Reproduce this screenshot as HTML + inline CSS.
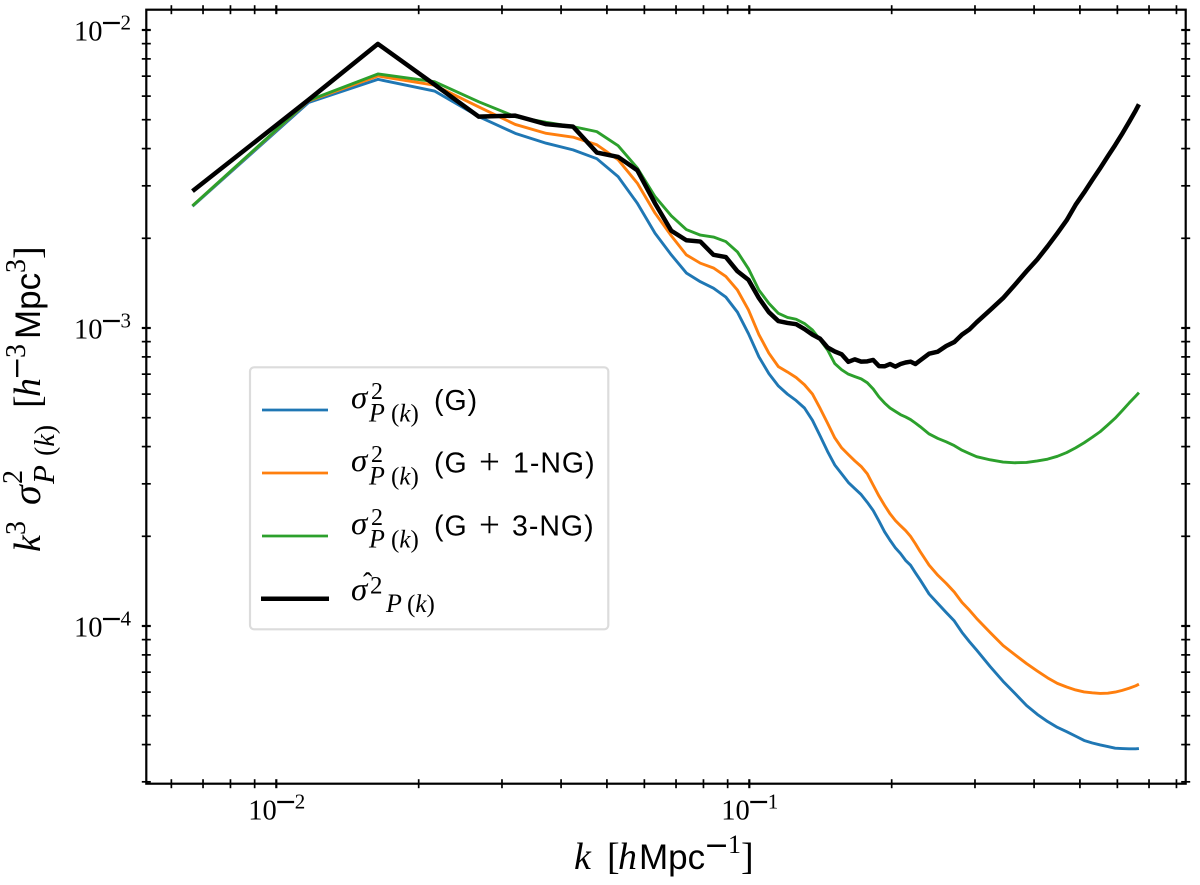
<!DOCTYPE html>
<html lang="en">
<head>
<meta charset="utf-8">
<title>Power spectrum variance chart</title>
<style>
html,body{margin:0;padding:0;background:#fff;}
svg{display:block;}
text{fill:#000;font-family:"Liberation Serif",serif;}
.sans{font-family:"Liberation Sans",sans-serif;}
.serif{font-family:"Liberation Serif",serif;}
.it{font-style:italic;}
.dj{font-family:"DejaVu Sans",sans-serif;}
</style>
</head>
<body>
<svg id="chart" xmlns="http://www.w3.org/2000/svg" width="1200" height="885" viewBox="0 0 1200 885">
  <rect x="0" y="0" width="1200" height="885" fill="#fff"/>
  <g id="series-layer"></g>
  <g id="tick-layer"></g>
  <rect x="146.3" y="9.7" width="1039.4" height="774" fill="none" stroke="#000" stroke-width="2.2"/>

  <g>
    <rect x="250" y="367.3" width="358.3" height="262" rx="4" ry="4" fill="#fff" stroke="#dcdcdc" stroke-width="2.2"/>

    <g>
      <line x1="262" y1="410" x2="328" y2="410" stroke="#1f77b4" stroke-width="2.8"/>
      <text><tspan class="it" x="351" y="408" font-size="33">σ</tspan><tspan x="371" y="399" font-size="24">2</tspan><tspan class="it" x="369" y="421.7" font-size="26">P</tspan><tspan x="391" y="421.7" font-size="25">(</tspan><tspan class="it" font-size="25">k</tspan><tspan font-size="25">)</tspan></text>
      <text class="sans" x="434" y="410" font-size="28.5" letter-spacing="1">(G)</text>
    </g>

    <g>
      <line x1="262" y1="473" x2="328" y2="473" stroke="#ff7f0e" stroke-width="2.8"/>
      <text><tspan class="it" x="351" y="471" font-size="33">σ</tspan><tspan x="371" y="462" font-size="24">2</tspan><tspan class="it" x="369" y="484.7" font-size="26">P</tspan><tspan x="391" y="484.7" font-size="25">(</tspan><tspan class="it" font-size="25">k</tspan><tspan font-size="25">)</tspan></text>
      <text class="sans" font-size="28.5" letter-spacing="1"><tspan x="434" y="472.5">(G</tspan><tspan class="serif" x="479" y="474" font-size="37" letter-spacing="0">+</tspan><tspan x="513" y="472.5">1-NG)</tspan></text>
    </g>

    <g>
      <line x1="262" y1="536" x2="328" y2="536" stroke="#2ca02c" stroke-width="2.8"/>
      <text><tspan class="it" x="351" y="534" font-size="33">σ</tspan><tspan x="371" y="525" font-size="24">2</tspan><tspan class="it" x="369" y="547.7" font-size="26">P</tspan><tspan x="391" y="547.7" font-size="25">(</tspan><tspan class="it" font-size="25">k</tspan><tspan font-size="25">)</tspan></text>
      <text class="sans" font-size="28.5" letter-spacing="1"><tspan x="434" y="535.5">(G</tspan><tspan class="serif" x="479" y="537" font-size="37" letter-spacing="0">+</tspan><tspan x="512" y="535.5">3-NG)</tspan></text>
    </g>

    <g>
      <line x1="261" y1="598.7" x2="329" y2="598.7" stroke="#000" stroke-width="4.5"/>
      <text><tspan class="it" x="351" y="600" font-size="33">σ</tspan><tspan x="370" y="593.5" font-size="25">2</tspan><tspan x="363" y="592" font-size="28">ˆ</tspan><tspan class="it" x="386" y="612" font-size="26">P</tspan><tspan x="407" y="612" font-size="25">(</tspan><tspan class="it" font-size="25">k</tspan><tspan font-size="25">)</tspan></text>
    </g>
  </g>

  <text><tspan class="it" x="574" y="869" font-size="38">k</tspan><tspan x="607" y="869" font-size="38">[</tspan><tspan class="it" x="618" y="869" font-size="38">h</tspan><tspan class="sans" x="639" y="869" font-size="35">Mpc</tspan><tspan class="dj" x="704" y="855" font-size="30">−</tspan><tspan x="728" y="853" font-size="26">1</tspan><tspan x="741" y="869" font-size="38">]</tspan></text>

  <g transform="translate(40,552) rotate(-90)">
    <text><tspan class="it" x="0" y="0" font-size="38">k</tspan><tspan x="17" y="-15" font-size="28">3</tspan><tspan class="it" x="47" y="0" font-size="40">σ</tspan><tspan x="68" y="-18" font-size="28">2</tspan><tspan class="it" x="68" y="14" font-size="31">P</tspan><tspan x="96" y="14" font-size="28">(</tspan><tspan class="it" font-size="28">k</tspan><tspan font-size="28">)</tspan><tspan x="144" y="0" font-size="38">[</tspan><tspan class="it" x="155" y="0" font-size="38">h</tspan><tspan class="dj" x="172" y="-14" font-size="28">−</tspan><tspan x="194" y="-15" font-size="28">3</tspan><tspan class="sans" x="213" y="0" font-size="35">Mpc</tspan><tspan x="279" y="-15" font-size="28">3</tspan><tspan x="293" y="0" font-size="38">]</tspan></text>
  </g>
</svg>

<script>
// Wavenumbers k [h/Mpc]
const kValues = [
  0.00665,0.0117,0.0164,0.0216,0.0268,0.032,0.0372,0.0424,0.0476,0.0528,
  0.058,0.0632,0.0684,0.0736,0.0788,0.084,0.0892,0.0944,0.0996,0.1048,
  0.11,0.1152,0.1204,0.1256,0.1308,0.136,0.1412,0.1464,0.1516,0.1568,
  0.162,0.1672,0.1724,0.1776,0.1828,0.188,0.1932,0.1984,0.2036,0.2088,
  0.214,0.2192,0.2244,0.2296,0.24,0.2504,0.2608,0.2712,0.2816,0.292,
  0.3024,0.3232,0.344,0.3648,0.3856,0.4064,0.4272,0.448,0.4688,0.4896,
  0.5104,0.5312,0.552,0.5728,0.5936,0.6144,0.6352,0.656,0.6664
];
// Series values in units of 1e-3 [h^-3 Mpc^3]
const valueUnit = 1e-3;
const sigmaG = [
  2.56,5.71,6.83,6.24,5.12,4.5,4.17,3.96,3.7,3.22,
  2.62,2.08,1.76,1.53,1.43,1.36,1.27,1.13,0.957,0.80,
  0.703,0.639,0.60,0.571,0.539,0.49,0.434,0.385,0.347,0.324,
  0.303,0.289,0.276,0.26,0.244,0.225,0.207,0.194,0.183,0.175,
  0.166,0.16,0.151,0.143,0.128,0.119,0.111,0.104,0.0952,0.0886,
  0.083,0.073,0.0652,0.0593,0.0541,0.0505,0.0478,0.0457,0.0442,0.0427,
  0.0413,0.0405,0.0399,0.0394,0.0389,0.0388,0.0387,0.0387,0.0388
];
const sigmaG1NG = [
  2.57,5.78,7.01,6.53,5.52,4.82,4.5,4.37,4.12,3.67,
  3.06,2.43,2.04,1.76,1.65,1.59,1.49,1.34,1.15,0.95,
  0.823,0.742,0.712,0.682,0.645,0.60,0.537,0.479,0.428,0.396,
  0.376,0.358,0.343,0.324,0.297,0.273,0.254,0.238,0.226,0.217,
  0.209,0.20,0.189,0.178,0.16,0.148,0.139,0.13,0.12,0.113,
  0.106,0.095,0.086,0.080,0.0748,0.0706,0.067,0.0642,0.0624,0.061,
  0.0601,0.0597,0.0594,0.0595,0.06,0.0608,0.0618,0.063,0.0638
];
const sigmaG3NG = [
  2.57,5.8,7.12,6.71,5.74,5.12,4.9,4.74,4.56,4.09,
  3.44,2.76,2.38,2.14,2.05,2.02,1.95,1.80,1.58,1.34,
  1.21,1.12,1.085,1.07,1.035,0.985,0.912,0.844,0.76,0.724,
  0.70,0.687,0.675,0.655,0.624,0.587,0.56,0.539,0.525,0.512,
  0.503,0.493,0.48,0.467,0.441,0.426,0.415,0.403,0.389,0.379,
  0.37,0.361,0.355,0.353,0.354,0.358,0.363,0.371,0.382,0.396,
  0.412,0.43,0.449,0.473,0.498,0.528,0.56,0.591,0.607
];
const sigmaHat = [
  2.88,5.83,8.98,6.56,5.12,5.16,4.83,4.74,3.88,3.75,
  3.38,2.62,2.12,1.97,1.95,1.76,1.73,1.55,1.45,1.26,
  1.13,1.055,1.04,1.03,0.992,0.95,0.92,0.86,0.834,0.816,
  0.77,0.785,0.771,0.773,0.781,0.745,0.744,0.757,0.742,0.757,
  0.766,0.771,0.757,0.778,0.82,0.833,0.87,0.897,0.95,0.989,
  1.045,1.15,1.26,1.40,1.55,1.70,1.88,2.08,2.30,2.59,
  2.85,3.14,3.44,3.77,4.11,4.49,4.91,5.37,5.63
];
// Axis ticks
const xMajorTicks = [0.01,0.1];
const xTickExponents = ["2","1"];
const xMinorTicks = [0.006,0.007,0.008,0.009,0.02,0.03,0.04,0.05,0.06,0.07,0.08,0.09,0.2,0.3,0.4,0.5,0.6,0.7,0.8];
const yMajorTicks = [1e-2,1e-3,1e-4];
const yTickExponents = ["2","3","4"];
const yMinorTicks = [9e-3,8e-3,7e-3,6e-3,5e-3,4e-3,3e-3,2e-3,9e-4,8e-4,7e-4,6e-4,5e-4,4e-4,3e-4,2e-4,9e-5,8e-5,7e-5,6e-5,5e-5,4e-5,3e-5];

const SVGNS = 'http://www.w3.org/2000/svg';
const seriesLayer = document.getElementById('series-layer');
const tickLayer = document.getElementById('tick-layer');

function xScale(k){ return 749.3 + 473 * (Math.log10(k) + 1); }
function yScale(v){ return 328 - 298 * (Math.log10(v) + 3); }

function drawSeries(values, color, width, name){
  const pts = kValues.map(function(k,i){
    return xScale(k).toFixed(2) + ',' + yScale(values[i] * valueUnit).toFixed(2);
  }).join(' ');
  const el = document.createElementNS(SVGNS,'polyline');
  el.setAttribute('points', pts);
  el.setAttribute('fill','none');
  el.setAttribute('stroke',color);
  el.setAttribute('stroke-width',width);
  el.setAttribute('stroke-linejoin','round');
  el.setAttribute('stroke-linecap','butt');
  
  
  seriesLayer.appendChild(el);
}
drawSeries(sigmaG,'#1f77b4',2.9,'series-g');
drawSeries(sigmaG1NG,'#ff7f0e',2.9,'series-g-1ng');
drawSeries(sigmaG3NG,'#2ca02c',2.9,'series-g-3ng');
drawSeries(sigmaHat,'#000000',4.5,'series-estimate');

function tickLine(x1,y1,x2,y2,w){
  const el = document.createElementNS(SVGNS,'line');
  el.setAttribute('x1',x1);
  el.setAttribute('y1',y1);
  el.setAttribute('x2',x2);
  el.setAttribute('y2',y2);
  el.setAttribute('stroke','#000');
  el.setAttribute('stroke-width',w);
  
  
  tickLayer.appendChild(el);
}
function xTick(k,w){
  const x = xScale(k);
  tickLine(x,779.2,x,788.2,w);
  tickLine(x,5.2,x,14.2,w);
}
function yTick(v,w){
  const y = yScale(v);
  tickLine(141.8,y,150.8,y,w);
  tickLine(1181.2,y,1190.2,y,w);
}
xMajorTicks.forEach(function(k){ xTick(k,2.2); });
xMinorTicks.forEach(function(k){ xTick(k,1.7); });
yMajorTicks.forEach(function(v){ yTick(v,2.2); });
yMinorTicks.forEach(function(v){ yTick(v,1.7); });

function powerLabel(x, base, exp, name){
  const t = document.createElementNS(SVGNS,'text');
  const a = document.createElementNS(SVGNS,'tspan');
  a.setAttribute('x',x);
  a.setAttribute('y',base);
  a.setAttribute('font-size','28.5');
  a.textContent = '10';
  const b = document.createElementNS(SVGNS,'tspan');
  b.setAttribute('x',x+26);
  b.setAttribute('y',base-9);
  b.setAttribute('font-size','27');
  b.setAttribute('class','dj');
  b.textContent = '\u2212';
  const c = document.createElementNS(SVGNS,'tspan');
  c.setAttribute('x',x+46.5);
  c.setAttribute('y',base-11);
  c.setAttribute('font-size','21');
  c.textContent = exp;
  t.appendChild(a);
  t.appendChild(b);
  t.appendChild(c);
  
  
  tickLayer.appendChild(t);
}
xMajorTicks.forEach(function(k,i){
  powerLabel(xScale(k)-28, 819.5, xTickExponents[i], 'x-tick-label');
});
yMajorTicks.forEach(function(v,i){
  powerLabel(74, yScale(v)+10.6, yTickExponents[i], 'y-tick-label');
});
</script>
</body>
</html>
